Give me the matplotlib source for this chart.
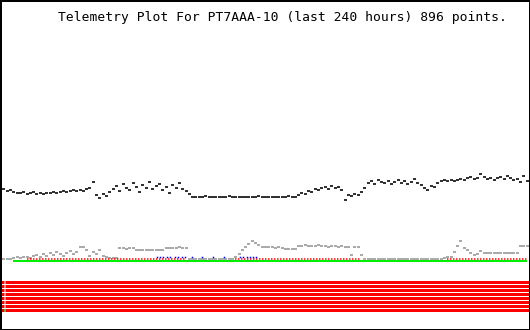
import numpy as np
import matplotlib
matplotlib.use("Agg")
import matplotlib.pyplot as plt

nan = np.nan

# telemetry samples, one every 1.5 h over the last 240 h
hours_span = 240
step_h = 1.5

# analog channel 1 (black)
black = [143, 141, 139, 140, 138, 137,
         137, 138, 136, 137, 138, 136, 137, 136, 137, 137,
         138, 137, 138, 139, 138, 139, 140, 139, 140, 139, 141,
         142,
         148, 135, 132, 136, 134, 138,
         141, 144, 139, 146, 142, 140, 147, 143, 138, 145,
         142, 148, 141, 144, 146, 140, 143, 137, 145, 142, 147, 141, 139,
         136,
         133, 133, 133, 133, 134, 133, 133, 133, 133, 133, 133, 134, 133, 133, 133, 133,
         133, 133, 133, 133, 134, 133, 133, 133, 133, 133, 133, 133, 133, 134, 133, 133,
         135, 137, 136, 139, 138, 141, 140, 142, 143, 141,
         144, 142, 143, 140, 130, 135, 134, 136, 135, 138,
         142, 147, 149, 146, 150, 148, 147, 149, 146, 148,
         150, 147, 149, 146, 148, 151, 147, 145, 142, 140,
         144, 143, 147, 149, 150, 149, 150, 149, 150, 151,
         150, 152, 153, 151, 152, 156, 153, 151, 152, 150,
         152, 153, 151, 154, 152, 150, 151, 148, 154, 149]

# analog channel 2 (grey)
grey = [71, 71, 71, 71,
        72, 73, 72, 73,
        73, 72, 74, 75, 73, 76, 74, 77, 75, 78, 76, 74, 77, 79, 76, 78,
        83, 83, 80,
        74, 78, 76, 80,
        74, 73, 72,
        72, 72,
        82, 82, 81, 82,
        82,
        80, 80, 80, 80, 80, 80, 80, 80, 80,
        82, 82, 82, 82, 83, 82, 82,
        71, 71, 71, 71, 71, 71, 71, 71, 71, 71, 71, 71, 71, 71,
        73, 76, 80, 83, 86, 89, 87, 85, 83, 83,
        83, 83, 82, 83, 82, 81, 81, 81, 81,
        84, 84, 85, 84, 84, 84, 85, 84, 84, 83, 84, 84, 83, 84,
        83, 83, 75, 83, 83, 75,
        71, 71, 71, 71, 71, 71, 71, 71, 71, 71, 71, 71,
        71, 71, 71, 71, 71, 71, 71, 71, 71, 71, 71, 71,
        72, 73, 73,
        78, 84, 89, 82,
        80, 77, 75, 76,
        79,
        77, 77, 77, 77, 77, 77, 77, 77, 77, 77, 77,
        84, 84, 84]

# analog channel 3 (green), flat
green = [nan] * 4 + [69] * 156

# analog channel 4 (red dots)
red = [nan] * 8 + [71] * 49 + [nan] * 14 + [71] * 39 + [nan] * 25 + [71] * 25

# analog channel 5 (blue), only a few samples
blue_t = [71.1, 72.5, 73.8, 75.6, 77.0, 79.2, 80.6, 82.4, 83.8, 86.9,
          91.5, 96.5, 101.4, 108.7, 110.0, 111.8, 113.2, 114.6, 115.9]
blue_v = [73] * len(blue_t)

# digital bits, all set
n_bits = 8
bit_segments = [(0, 1.8), (2.3, 240)]
bit_gap = (1.8, 2.3)

title = "Telemetry Plot For PT7AAA-10 (last 240 hours) 896 points."

t = np.arange(len(black)) * step_h

fig = plt.figure(figsize=(5.3, 3.3), dpi=100)
ax = fig.add_axes([0, 0, 1, 1])
ax.set_xlim(0, hours_span)
ax.set_ylim(0, 330)

px = 72 / 100.0
rect = [(-1.5, -1), (1.5, -1), (1.5, 1), (-1.5, 1)]

ax.plot(t, green, color='#00ee00', lw=2 * px, solid_capstyle='butt')
ax.plot(t, grey, ls='none', marker=rect, ms=3 * px, mew=0, color='#aaaaaa')
ax.plot(t, red, color='#ff0000', lw=1.5 * px, dashes=(1, 1))
ax.plot(blue_t, blue_v, ls='none', marker='s', ms=1.5 * px, mew=0, color='#0000ff')
ax.plot(t, black, ls='none', marker=rect, ms=3 * px, mew=0, color='#333333')

for b in range(n_bits):
    yb = 48.5 - 4 * b
    for x0, x1 in bit_segments:
        ax.hlines(yb, x0, x1, color='#ff0000', lw=3 * px)
ax.hlines(48.5 - 4 * (n_bits - 1), bit_gap[0], bit_gap[1], color='#00cc00', lw=3 * px)

ax.set_xticks([])
ax.set_yticks([])
for s in ax.spines.values():
    s.set_color('black')
    s.set_linewidth(3 * px)

fig.text(0.957, 1 - 17 / 330, title, ha='right', va='center',
         family='DejaVu Sans Mono', fontsize=9.35)

fig.savefig('out.png', dpi=100)
